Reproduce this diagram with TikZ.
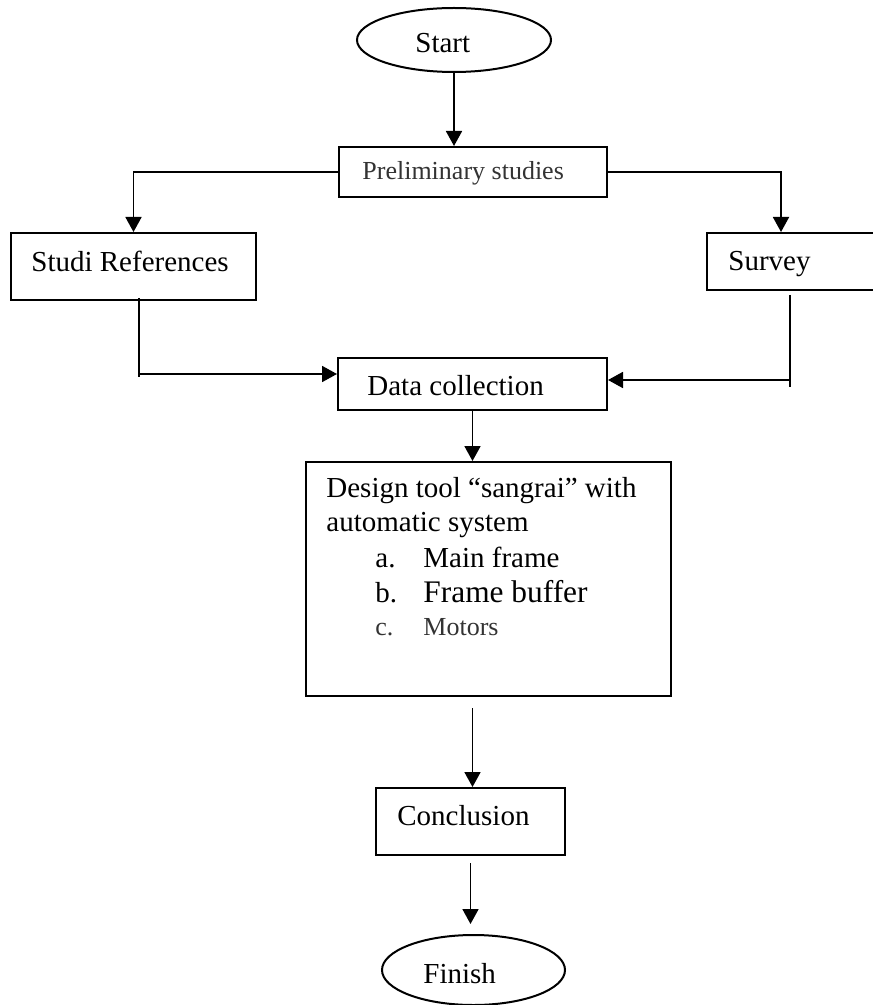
\documentclass[tikz,border=0pt]{standalone}
\usepackage{fontspec}
\setmainfont{Liberation Serif}
\usetikzlibrary{arrows.meta,shapes.geometric}

\tikzset{
  box/.style={draw, line width=1pt, rectangle, inner sep=0pt},
  oval/.style={draw, line width=1pt, ellipse, inner sep=0pt},
  txt/.style={anchor=base west, inner sep=0pt, font=\fontsize{14.5}{17}\selectfont},
  small/.style={font=\fontsize{13}{15}\selectfont, text=black!80},
  link/.style={line width=0.9pt},
  arr/.style={link, -{Triangle[length=7.5pt,width=8pt]}}
}

\begin{document}
\begin{tikzpicture}[x=0.5pt,y=0.5pt,yscale=-1,xscale=1]
\useasboundingbox (0,0) rectangle (872,1005);

%Shape: Ellipse [start]
\node [oval, minimum width=97pt, minimum height=32pt] (start) at (454,40) {};
%Shape: Rectangle [prelim]
\node [box, minimum width=134pt, minimum height=25pt] (prelim) at (473,172) {};
%Shape: Rectangle [studi]
\node [box, minimum width=122.5pt, minimum height=33.5pt] (studi) at (133.5,266.5) {};
%Shape: Rectangle [survey]
\node [box, minimum width=86.5pt, minimum height=28.5pt] (survey) at (793.5,261.5) {};
%Shape: Rectangle [data]
\node [box, minimum width=134.5pt, minimum height=26pt] (data) at (472.5,384) {};
%Shape: Rectangle [design]
\node [box, minimum width=182.5pt, minimum height=117pt] (design) at (488.5,579) {};
%Shape: Rectangle [concl]
\node [box, minimum width=94.5pt, minimum height=33.5pt] (concl) at (470.5,821.5) {};
%Shape: Ellipse [finish]
\node [oval, minimum width=91.5pt, minimum height=35pt] (finish) at (473.5,970) {};

%elbow points
\coordinate (sr) at (139,374);
\coordinate (sv) at (790,380);

%Connectors
\draw [arr] (start.south) -- (start.south |- prelim.north);
\draw [arr] (prelim.west) -| (studi.north);
\draw [arr] (prelim.east) -| ([xshift=-6.25pt]survey.north);
\draw [link] ([yshift=-1.5pt]studi.south -| sr) -- ([yshift=1.5pt]sr);
\draw [arr] (sr) -- (sr -| data.west);
\draw [link] ([yshift=2pt]survey.south -| sv) -- ([yshift=3.5pt]sv);
\draw [arr] (sv) -- (sv -| data.east);
\draw [arr] (data.south) -- (data.south |- design.north);
\draw [arr] ([yshift=5.5pt]design.south -| data.south) -- (data.south |- concl.north);
\draw [arr] ([yshift=3.5pt]concl.south) -- ([yshift=-5pt]concl.south |- finish.north);

% Text Node
\node [txt] (t-start) at (415,53) {Start};
\node [txt, small] (t-prelim) at (362,180) {Preliminary studies};
\node [txt] (t-studi) at (31,272) {Studi References};
\node [txt] (t-survey) at (728,271) {Survey};
\node [txt] (t-data) at (367,395) {Data collection};
\node [txt] (t-design1) at (326,497) {Design tool “sangrai” with};
\node [txt] (t-design2) at (326,531) {automatic system};
\node [txt] (t-a) at (375,567) {a.};
\node [txt] (t-main) at (423,567) {Main frame};
\node [txt] (t-b) at (375,602) {b.};
\node [txt, font=\fontsize{15.7}{18}\selectfont] (t-buffer) at (423,602) {Frame buffer};
\node [txt, small] (t-c) at (375,635) {c.};
\node [txt, small] (t-motors) at (423,635) {Motors};
\node [txt] (t-concl) at (397,825) {Conclusion};
\node [txt] (t-finish) at (423,983) {Finish};

\end{tikzpicture}
\end{document}
